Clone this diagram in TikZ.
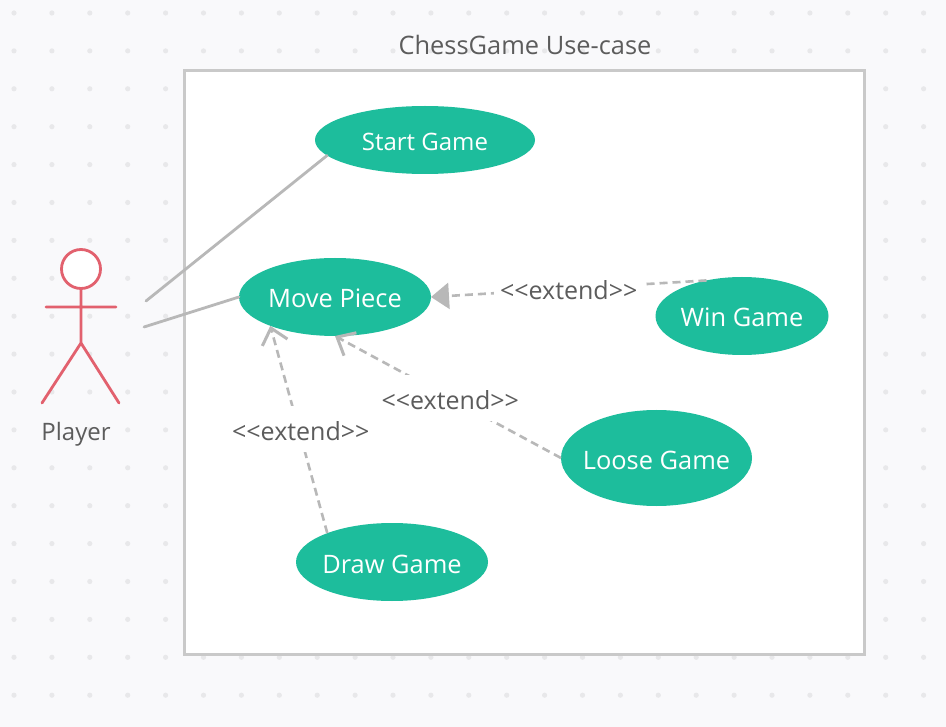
\documentclass[tikz,border=0pt]{standalone}
\usepackage{fontspec}
\setmainfont{Open Sans}
\usetikzlibrary{arrows.meta, shapes.geometric}

\definecolor{pagebg}{HTML}{F9F9FB}
\definecolor{griddot}{HTML}{E8E8EA}
\definecolor{boxline}{HTML}{C9C9C9}
\definecolor{linkline}{HTML}{B8B8B8}
\definecolor{usecasefill}{HTML}{1DBD9C}
\definecolor{actorline}{HTML}{E2616E}
\definecolor{labeltext}{HTML}{5C5C5C}

\tikzset{
  usecase/.style={ellipse, fill=usecasefill, text=white, inner xsep=-20pt, inner ysep=0pt, outer sep=0pt, text height=22pt, text depth=0pt, font=\fontsize{25.4}{30}\selectfont},
  caption/.style={text=labeltext, inner sep=0pt, text height=22pt, text depth=0pt, font=\fontsize{25.4}{30}\selectfont},
  extendlabel/.style={caption, fill=white, minimum width=150pt, minimum height=46pt},
  assoc/.style={draw=linkline, line width=2.8pt, line cap=round},
  extendline/.style={draw=linkline, line width=2.6pt, dash pattern=on 8pt off 5pt},
  openhead/.style={-{Straight Barb[length=15pt, width=26pt, line width=3pt]}},
  filledhead/.style={-{Triangle[length=18pt, width=26pt, fill=linkline]}},
  actorpart/.style={draw=actorline, line width=2.8pt, line cap=round}
}

\begin{document}
\begin{tikzpicture}[x=1pt, y=-1pt]
    \useasboundingbox (0,0) rectangle (946,727);
    \fill [pagebg] (0,0) rectangle (946,727);
    \foreach \i in {0,...,24}
      \foreach \j in {0,...,18}
        \fill [griddot] (14+37.9*\i, 13+37.9*\j) circle (2.6pt);

    \node (title) [caption] at (525,44) {ChessGame Use-case};
    \node (system) [draw=boxline, fill=white, line width=3pt, minimum width=680pt, minimum height=584pt, inner sep=0pt] at (524,362.5) {};

    \node (startgame) [usecase, minimum width=220pt, minimum height=68pt, font=\fontsize{24}{28}\selectfont] at (425,140) {Start Game};
    \node (movepiece) [usecase, minimum width=192pt, minimum height=78pt] at (335,297) {Move Piece};
    \node (wingame) [usecase, minimum width=173pt, minimum height=78pt] at (742,316) {Win Game};
    \node (loosegame) [usecase, minimum width=191pt, minimum height=96pt] at (656.5,458) {Loose Game};
    \node (drawgame) [usecase, minimum width=192pt, minimum height=78pt] at (392,562) {Draw Game};

    \node (head) [circle, actorpart, fill=white, minimum size=39pt, inner sep=0pt] at (81,269) {};
    \coordinate (hip) at (81,343);
    \coordinate (armleft) at (46,307);
    \coordinate (armright) at (116,307);
    \coordinate (footleft) at (42,403);
    \coordinate (footright) at (119,403);
    \node (player) [caption, font=\fontsize{24}{28}\selectfont] at (76,430) {Player};
    \draw [actorpart] (head) -- (hip) (armleft) -- (armright) (footleft) -- (hip) -- (footright);

    \coordinate (playerupper) at (146,301);
    \coordinate (playerlower) at (144,327);
    \draw [assoc] (playerupper) -- (startgame.189);
    \draw [assoc] (playerlower) -- (movepiece.west);

    \path [extendline]
      (wingame.135) edge [filledhead] node [extendlabel, font=\fontsize{25}{30}\selectfont] {<{}<extend>{}>} (movepiece.east)
      (loosegame.west) edge [openhead] node [extendlabel, pos=0.49, font=\fontsize{25}{30}\selectfont] {<{}<extend>{}>} (movepiece.south)
      (drawgame.156) edge [openhead] node [extendlabel, xshift=2pt, font=\fontsize{25}{30}\selectfont] {<{}<extend>{}>} (movepiece.204);
\end{tikzpicture}
\end{document}
